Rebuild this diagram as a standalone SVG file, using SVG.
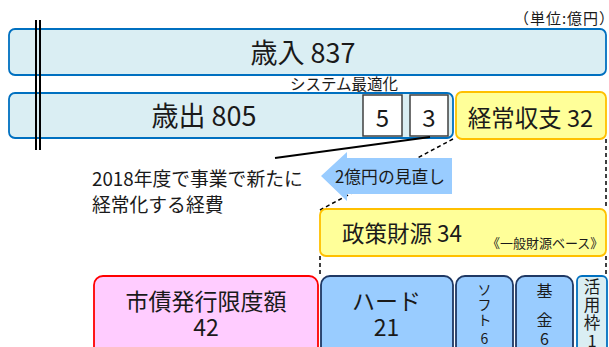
<svg xmlns="http://www.w3.org/2000/svg" width="609" height="347" viewBox="0 0 609 347">
<style>
text{font-family:"Noto Sans CJK JP","Noto Sans",sans-serif;fill:#1a1a1a}
.blue{fill:#DAEEF3;stroke:#0070C0;stroke-width:1.8}
.yel{fill:#FFFF99;stroke:#FFC000;stroke-width:1.8}
.pink{fill:#FFCCFF;stroke:#FF0000;stroke-width:1.8}
.navy{fill:#99CCFF;stroke:#1F3864;stroke-width:1.8}
.num{fill:#fff;stroke:#404040;stroke-width:1.5}
.dash{stroke:#000;stroke-width:1.5;stroke-dasharray:4 3;fill:none}
.c{text-anchor:middle}
</style>
<rect width="609" height="347" fill="#fff"/>
<text x="514" y="24" font-size="15" textLength="100" lengthAdjust="spacing">（単位:億円）</text>
<g id="revenue">
<rect class="blue" x="9" y="29" width="597" height="46" rx="6"/>
<text class="c" x="303" y="63" font-size="27">歳入 837</text>
</g>
<text x="290" y="90" font-size="15.5">システム最適化</text>
<g id="expenditure">
<rect class="blue" x="9" y="93" width="444" height="45" rx="6"/>
<text class="c" x="204" y="126" font-size="27">歳出 805</text>
</g>
<g id="box5">
<rect class="num" x="363" y="95" width="39" height="41"/>
<text class="c" x="382.5" y="127" font-size="24">5</text>
</g>
<g id="box3">
<rect class="num" x="410" y="95" width="38" height="41"/>
<text class="c" x="429" y="127" font-size="24">3</text>
</g>
<g id="ordinary">
<rect class="yel" x="456" y="92" width="150" height="47" rx="6"/>
<text class="c" x="530.5" y="127" font-size="23.5">経常収支 32</text>
</g>
<g id="note">
<text x="92" y="186" font-size="18.8">2018年度で事業で新たに</text>
<text x="92" y="212" font-size="18.8">経常化する経費</text>
</g>
<g id="connectors">
<line x1="275" y1="158" x2="430" y2="137" stroke="#000" stroke-width="1.8"/>
<line class="dash" x1="453" y1="139" x2="320" y2="210"/>
<line class="dash" x1="606" y1="139" x2="606" y2="209"/>
<line class="dash" x1="320" y1="256" x2="320" y2="276"/>
<line class="dash" x1="606" y1="256" x2="606" y2="276"/>
</g>
<g id="review-arrow">
<polygon points="321,176 347,152 347,158 452,158 452,194 347,194 347,201" fill="#99CCFF"/>
<text x="335" y="183" font-size="16.8">2億円の見直し</text>
</g>
<g id="policy">
<rect class="yel" x="320" y="209" width="286" height="47" rx="6"/>
<text x="342" y="242" font-size="22.5">政策財源 34</text>
<text x="487" y="248" font-size="13">《一般財源ベース》</text>
</g>
<g id="bond">
<rect class="pink" x="94" y="276" width="224" height="90" rx="9"/>
<text class="c" x="206" y="310" font-size="23">市債発行限度額</text>
<text class="c" x="206" y="336" font-size="23">42</text>
</g>
<g id="hard">
<rect class="navy" x="321" y="276" width="132" height="90" rx="9"/>
<text class="c" x="386.5" y="310" font-size="23">ハード</text>
<text class="c" x="386.5" y="336" font-size="23">21</text>
</g>
<g id="soft">
<rect class="navy" x="456" y="276" width="57" height="90" rx="9"/>
<text class="c" font-size="14"><tspan x="484.5" y="295">ソ</tspan><tspan x="484.5" y="310">フ</tspan><tspan x="484.5" y="325">ト</tspan><tspan x="484.5" y="344">6</tspan></text>
</g>
<g id="fund">
<rect class="navy" x="516" y="276" width="57" height="90" rx="9"/>
<text class="c" font-size="16"><tspan x="544.5" y="297">基</tspan><tspan x="544.5" y="326">金</tspan><tspan x="544.5" y="345">6</tspan></text>
</g>
<g id="utilization">
<rect class="blue" x="577" y="276" width="30" height="90" rx="5"/>
<text class="c" font-size="16.5"><tspan x="592" y="293">活</tspan><tspan x="592" y="311">用</tspan><tspan x="592" y="329">枠</tspan><tspan x="592" y="347">1</tspan></text>
</g>
<g id="double-line">
<line x1="36" y1="20" x2="36" y2="150" stroke="#000" stroke-width="2"/>
<line x1="40" y1="20" x2="40" y2="150" stroke="#000" stroke-width="2"/>
</g>
</svg>
